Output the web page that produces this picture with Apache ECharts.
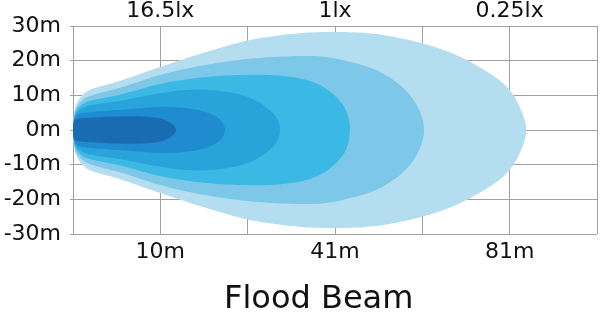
<!DOCTYPE html>
<html>
<head>
<meta charset="utf-8">
<script src="https://cdn.jsdelivr.net/npm/echarts@6/dist/echarts.min.js"></script>
<style>
html,body{margin:0;padding:0;background:#fff;}
#chart{width:600px;height:316px;}
</style>
</head>
<body>
<div id="chart"></div>
<script>
// Tick labels
const yTicks = [-30, -20, -10, 0, 10, 20, 30];
const bottomLabels = ['', '10m', '', '41m', '', '81m', ''];
const topLabels = ['', '16.5lx', '', '1lx', '', '0.25lx', ''];
const title = 'Flood Beam';

// Beam contours (upper half, [grid column, metres]); mirrored below the axis
const contour1 = [[0,0],[0.006,3.4],[0.034,7.2],[0.09,9.5],[0.17,11.3],[0.54,14.2],[1,18.2],[1.5,22.3],[2,25.8],[2.5,27.7],[3,28.3],[3.5,27.6],[4,25],[4.4,21.5],[4.85,15],[5,11.5],[5.1,7.5],[5.19,0]];
const contour2 = [[0,0],[0.006,3],[0.034,6.2],[0.09,8.2],[0.17,9.6],[0.54,12.2],[1,15.9],[1.5,18.7],[2,20.5],[2.5,21.3],[2.85,21.2],[3.1,20.1],[3.47,17.3],[3.77,12.4],[3.95,6.5],[4.02,0]];
const contour3 = [[0,0],[0.006,2.7],[0.034,5.4],[0.09,7.1],[0.17,8.2],[0.54,10.2],[1,13.3],[1.5,15.2],[2,15.9],[2.4,15.6],[2.75,13.8],[2.97,10.5],[3.12,6],[3.17,0]];
const contour4 = [[0,0],[0.006,2.4],[0.034,4.7],[0.09,6],[0.17,6.9],[0.54,8.4],[1,10.6],[1.34,11.6],[1.7,11.2],[2,9.5],[2.2,6.8],[2.33,3.5],[2.37,0]];
const contour5 = [[0,0],[0.006,2.2],[0.034,4],[0.09,4.8],[0.17,5.1],[0.54,5.8],[1,6.6],[1.3,6.3],[1.55,4.9],[1.69,2.8],[1.74,0]];
const contour6 = [[0,0],[0.006,2],[0.034,3],[0.2,3.5],[0.5,3.9],[0.8,3.9],[1,3.3],[1.1,2.3],[1.16,1.1],[1.18,0]];

const contours = [contour1, contour2, contour3, contour4, contour5, contour6];
const colors = ['#b4def0', '#7dc8e8', '#3cb8e4', '#28a4da', '#1e8cce', '#196cb2'];

// Smooth closed outline through projected points (centripetal Catmull-Rom, rendering only)
function smoothOutline(pts, steps) {
  const n = pts.length, out = [];
  const dist = (a, b) => Math.max(Math.pow(Math.hypot(b[0] - a[0], b[1] - a[1]), 0.5), 1e-4);
  for (let i = 0; i < n; i++) {
    const p0 = pts[(i - 1 + n) % n], p1 = pts[i], p2 = pts[(i + 1) % n], p3 = pts[(i + 2) % n];
    const d1 = dist(p0, p1), d2 = dist(p1, p2), d3 = dist(p2, p3);
    const b1 = [0, 1].map(k => (d1 * d1 * p2[k] - d2 * d2 * p0[k] + (2 * d1 * d1 + 3 * d1 * d2 + d2 * d2) * p1[k]) / (3 * d1 * (d1 + d2)));
    const b2 = [0, 1].map(k => (d3 * d3 * p1[k] - d2 * d2 * p3[k] + (2 * d3 * d3 + 3 * d3 * d2 + d2 * d2) * p2[k]) / (3 * d3 * (d3 + d2)));
    for (let s = 0; s < steps; s++) {
      const t = s / steps, u = 1 - t;
      out.push([0, 1].map(k => u * u * u * p1[k] + 3 * u * u * t * b1[k] + 3 * u * t * t * b2[k] + t * t * t * p2[k]));
    }
  }
  return out;
}

const chart = echarts.init(document.getElementById('chart'), null, {renderer: 'canvas'});
const font = 'DejaVu Sans';
const gridColor = '#a0a0a0';

chart.setOption({
  animation: false,
  backgroundColor: '#fff',
  title: {
    text: title, left: 219, top: 279,
    textStyle: {fontFamily: font, fontSize: 32, fontWeight: 'normal', color: '#111'}
  },
  grid: {left: 73, right: 2, top: 26, bottom: 82},
  xAxis: [{
    type: 'value', min: 0, max: 6, interval: 1, position: 'bottom',
    axisLine: {show: true, lineStyle: {color: gridColor}},
    axisTick: {show: true, length: 3, lineStyle: {color: gridColor}},
    splitLine: {show: true, lineStyle: {color: gridColor, width: 1}},
    axisLabel: {margin: 7, fontFamily: font, fontSize: 22, color: '#111',
      formatter: v => bottomLabels[Math.round(v)] || ''}
  }, {
    type: 'value', min: 0, max: 6, interval: 1, position: 'top',
    axisLine: {show: true, lineStyle: {color: gridColor}},
    axisTick: {show: false},
    splitLine: {show: false},
    axisLabel: {margin: 4, fontFamily: font, fontSize: 22, color: '#111',
      formatter: v => topLabels[Math.round(v)] || ''}
  }],
  yAxis: {
    type: 'value', min: -30, max: 30, interval: 10,
    axisLine: {show: true, lineStyle: {color: gridColor}},
    axisTick: {show: true, length: 3, lineStyle: {color: gridColor}},
    splitLine: {show: true, lineStyle: {color: gridColor, width: 1}},
    axisLabel: {margin: 12, fontFamily: font, fontSize: 22, color: '#111',
      formatter: v => yTicks.includes(v) ? v + 'm' : ''}
  },
  series: [{
    type: 'custom',
    coordinateSystem: 'cartesian2d',
    clip: true,
    data: contours.map((c, i) => [c[c.length - 1][0], 0, i]),
    renderItem: function (params, api) {
      const idx = api.value(2);
      const c = contours[idx];
      const top = c.map(p => api.coord([p[0], p[1]]));
      const bottom = c.slice(1, -1).reverse().map(p => api.coord([p[0], -p[1]]));
      return {
        type: 'polygon',
        shape: {points: smoothOutline(top.concat(bottom), 12)},
        style: {fill: colors[idx], stroke: null}
      };
    }
  }]
});
</script>
</body>
</html>
